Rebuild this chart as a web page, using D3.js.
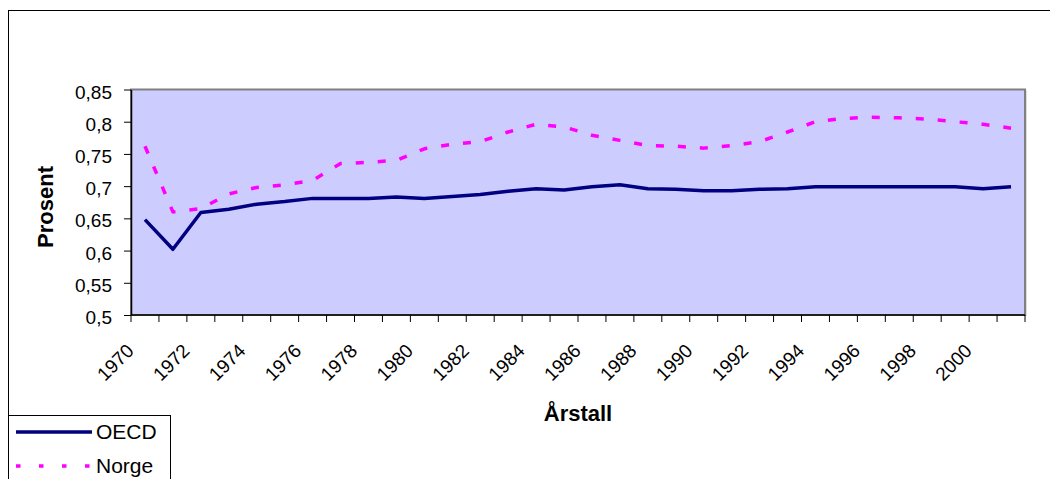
<!DOCTYPE html>
<html>
<head>
<meta charset="utf-8">
<script src="https://cdn.jsdelivr.net/npm/d3@7"></script>
<style>
	body { margin: 0; background: #fff; }
	svg { display: block; font-family: "Liberation Sans", Arial, sans-serif; }
</style>
</head>
<body>
<svg id="chart" width="1050" height="479"></svg>
<script>

const YEARS = [1970, 1971, 1972, 1973, 1974, 1975, 1976, 1977, 1978, 1979,
	1980, 1981, 1982, 1983, 1984, 1985, 1986, 1987, 1988, 1989,
	1990, 1991, 1992, 1993, 1994, 1995, 1996, 1997, 1998, 1999,
	2000, 2001];
const OECD = [0.648, 0.602, 0.659, 0.664, 0.672, 0.676, 0.681, 0.681, 0.681, 0.683,
	0.681, 0.684, 0.687, 0.692, 0.696, 0.694, 0.699, 0.702, 0.696, 0.695,
	0.693, 0.693, 0.695, 0.696, 0.699, 0.699, 0.699, 0.699, 0.699, 0.699,
	0.696, 0.699];
const NORGE = [0.762, 0.660, 0.665, 0.688, 0.698, 0.702, 0.709, 0.735, 0.737, 0.740,
	0.758, 0.765, 0.769, 0.784, 0.796, 0.792, 0.779, 0.771, 0.763, 0.762,
	0.759, 0.763, 0.769, 0.784, 0.800, 0.805, 0.807, 0.806, 0.804, 0.800,
	0.796, 0.790];
const Y_TICKS = [0.5, 0.55, 0.6, 0.65, 0.7, 0.75, 0.8, 0.85];
const SERIES = [
	{ name: 'OECD', values: OECD, color: '#000080', dash: null, legendDash: null },
	{ name: 'Norge', values: NORGE, color: '#FF00FF', dash: '8,14', legendDash: '4.5,18.5' }
];

const PLOT = { left: 131, right: 1025, top: 89.5, bottom: 315 };

const svg = d3.select('#chart');

// outer chart frame (only top and left edges are inside the picture)
svg.append('rect')
	.attr('x', 8.5).attr('y', 10.5)
	.attr('width', 1100).attr('height', 600)
	.attr('fill', 'none').attr('stroke', '#000').attr('stroke-width', 1);

const x = d3.scaleBand().domain(YEARS).range([PLOT.left, PLOT.right]).padding(0);
const y = d3.scaleLinear().domain([0.5, 0.85]).range([PLOT.bottom, PLOT.top]);
const xEdge = d3.scaleLinear().domain([0, YEARS.length]).range([PLOT.left, PLOT.right]);

// plot area
svg.append('rect')
	.attr('x', PLOT.left + 1.5).attr('y', PLOT.top + 1)
	.attr('width', PLOT.right - PLOT.left).attr('height', PLOT.bottom - PLOT.top)
	.attr('fill', '#c0c0c0');
svg.append('rect')
	.attr('x', PLOT.left).attr('y', PLOT.top)
	.attr('width', PLOT.right - PLOT.left).attr('height', PLOT.bottom - PLOT.top)
	.attr('fill', '#CCCCFF').attr('stroke', '#808080').attr('stroke-width', 2);

// y axis
const yAxis = d3.axisLeft(y)
	.tickValues(Y_TICKS)
	.tickSize(7)
	.tickSizeOuter(0)
	.tickFormat(d => d3.format('.2~f')(d).replace('.', ','));
const gy = svg.append('g')
	.attr('transform', `translate(${PLOT.left},0)`)
	.call(yAxis);
gy.select('.domain').attr('stroke', '#000').attr('stroke-width', 1.5);
gy.selectAll('.tick line').attr('stroke', '#000');
gy.selectAll('.tick text')
	.attr('x', -19)
	.attr('dy', '0.45em')
	.attr('font-size', 19)
	.attr('font-family', '"Liberation Sans", Arial, sans-serif')
	.attr('fill', '#000');

// x axis (ticks on category edges)
const gx = svg.append('g');
gx.append('line')
	.attr('x1', PLOT.left).attr('x2', PLOT.right)
	.attr('y1', PLOT.bottom).attr('y2', PLOT.bottom)
	.attr('stroke', '#000').attr('stroke-width', 1.5);
gx.selectAll('line.tick')
	.data(d3.range(YEARS.length + 1))
	.enter().append('line')
	.attr('class', 'tick')
	.attr('x1', d => xEdge(d)).attr('x2', d => xEdge(d))
	.attr('y1', PLOT.bottom).attr('y2', PLOT.bottom + 7)
	.attr('stroke', '#000').attr('stroke-width', 1);
gx.selectAll('text')
	.data(YEARS.filter((d, i) => i % 2 === 0))
	.enter().append('text')
	.attr('transform', d => `translate(${x(d) + x.bandwidth() / 2 - 10},352) rotate(-45)`)
	.attr('text-anchor', 'end')
	.attr('font-size', 19)
	.text(d => d);

// lines
const line = d3.line()
	.x((d, i) => x(YEARS[i]) + x.bandwidth() / 2)
	.y(d => y(d));

svg.selectAll('path.series')
	.data(SERIES)
	.enter().append('path')
	.attr('class', 'series')
	.attr('d', d => line(d.values))
	.attr('fill', 'none')
	.attr('stroke', d => d.color)
	.attr('stroke-width', 3.5)
	.attr('stroke-linejoin', 'round')
	.attr('stroke-dasharray', d => d.dash);

// axis titles
svg.append('text')
	.attr('transform', 'translate(53,207) rotate(-90)')
	.attr('text-anchor', 'middle')
	.attr('font-size', 22)
	.attr('font-weight', 'bold')
	.text('Prosent');
svg.append('text')
	.attr('x', 578).attr('y', 421)
	.attr('text-anchor', 'middle')
	.attr('font-size', 22)
	.attr('font-weight', 'bold')
	.text('Årstall');

// legend
const legend = svg.append('g');
legend.append('rect')
	.attr('x', 8.5).attr('y', 415.5)
	.attr('width', 162).attr('height', 100)
	.attr('fill', '#fff').attr('stroke', '#000').attr('stroke-width', 1);
const items = legend.selectAll('g.item')
	.data(SERIES)
	.enter().append('g')
	.attr('class', 'item')
	.attr('transform', (d, i) => `translate(0,${432 + i * 34})`);
items.append('line')
	.attr('x1', 16).attr('x2', 92)
	.attr('stroke', d => d.color)
	.attr('stroke-width', 3.5)
	.attr('stroke-dasharray', d => d.legendDash);
items.append('text')
	.attr('x', 96).attr('y', 7)
	.attr('font-size', 21)
	.text(d => d.name);

</script>
</body>
</html>
